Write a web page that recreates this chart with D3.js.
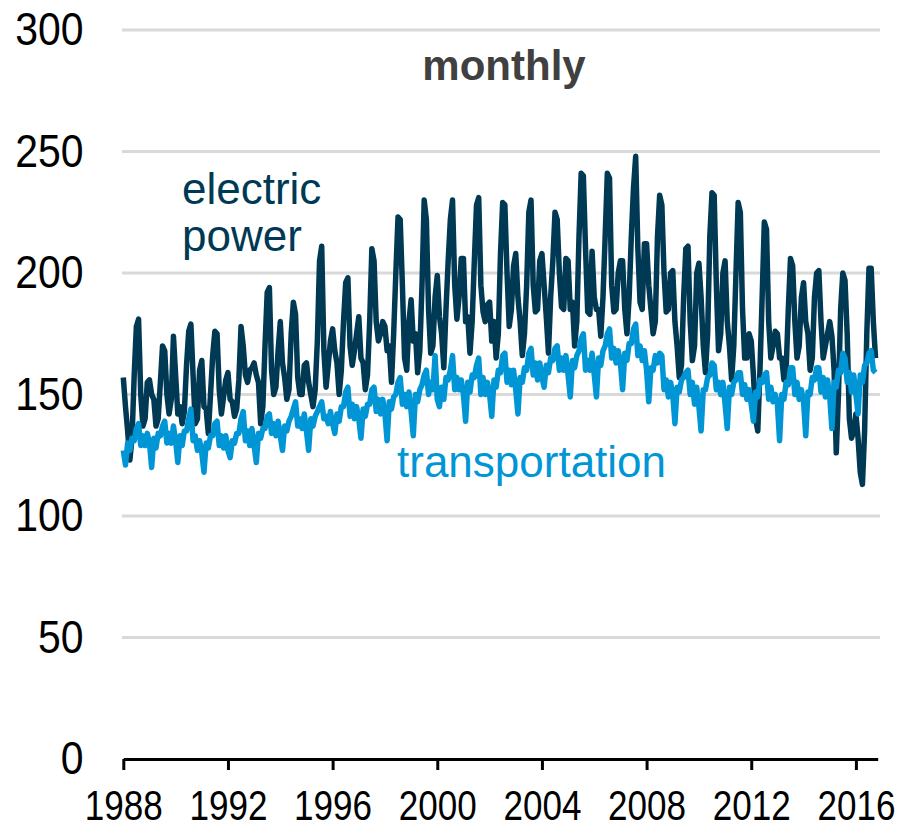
<!DOCTYPE html>
<html><head><meta charset="utf-8">
<script src="https://cdn.jsdelivr.net/npm/d3@7"></script>
<style>body{margin:0;background:#fff}</style>
</head><body>
<svg id="chart" width="905" height="830"></svg>
<script>
// ---- data (million metric tons, monthly, Jan 1988 – Oct 2016) ----
const startYear = 1988;
const electricPower = [
  157,145,135,123,132,158,178,181,150,137,140,155, // 1988
  156,150,148,137,140,155,170,168,150,142,148,174, // 1989
  158,142,145,138,143,162,176,179,158,138,140,160, // 1990
  164,145,144,134,150,166,176,175,152,142,149,156, // 1991
  159,148,147,141,144,156,178,170,158,155,160,161, // 1992
  163,158,155,138,145,170,192,194,160,150,153,168, // 1993
  180,163,157,148,152,175,188,183,157,150,150,162, // 1994
  163,155,150,145,152,172,205,211,168,153,162,172, // 1995
  177,168,163,150,160,180,196,198,170,162,168,175, // 1996
  182,165,163,152,158,180,210,205,180,172,175,180, // 1997
  178,168,170,155,175,200,223,222,195,165,160,180, // 1998
  189,172,175,159,168,195,230,222,185,167,170,190, // 1999
  199,182,175,161,185,205,222,230,195,181,190,206, // 2000
  206,180,182,167,180,205,228,231,195,184,180,187, // 2001
  188,172,180,165,175,208,229,228,200,178,185,203, // 2002
  208,190,180,166,175,195,225,230,195,184,185,205, // 2003
  208,195,182,167,190,205,225,222,200,186,185,206, // 2004
  205,185,188,170,180,215,241,240,210,184,183,209, // 2005
  190,185,185,174,190,215,241,239,195,184,185,200, // 2006
  205,205,185,175,190,215,235,248,210,188,185,212, // 2007
  212,195,185,175,180,215,232,228,200,184,185,200, // 2008
  201,180,170,157,162,190,210,211,180,164,170,200, // 2009
  204,190,170,159,175,215,233,232,195,168,175,200, // 2010
  205,180,170,156,170,200,229,225,185,165,165,175, // 2011
  172,158,140,135,160,190,221,218,180,165,170,176, // 2012
  175,165,165,156,160,185,206,203,180,165,170,190, // 2013
  196,180,175,160,165,190,200,201,180,165,170,175, // 2014
  180,174,160,126,150,185,200,197,175,140,132,135, // 2015
  142,132,118,113,135,175,202,202,180,165            // 2016
];
const transportation = [
  127,121,130,127,132,131,136,138,129,133,129,134, // 1988
  130,120,132,128,134,133,137,139,130,134,130,137, // 1989
  131,122,133,129,135,135,140,144,131,133,127,131, // 1990
  126,118,130,128,133,133,138,139,129,133,128,133, // 1991
  127,124,131,130,134,134,140,143,131,135,129,136, // 1992
  129,122,134,132,136,136,141,142,134,138,133,139, // 1993
  133,127,137,135,139,141,144,147,137,140,136,142, // 1994
  135,127,140,137,141,143,145,147,140,141,138,143, // 1995
  138,134,142,139,145,145,151,153,141,146,140,145, // 1996
  140,132,144,141,146,146,152,153,143,148,142,148, // 1997
  142,131,147,144,149,150,155,157,146,150,145,151, // 1998
  143,133,150,147,152,154,158,160,150,155,152,166, // 1999
  148,145,153,148,157,156,160,166,152,157,152,156, // 2000
  150,139,155,151,158,157,162,165,150,157,150,155, // 2001
  150,141,156,153,160,159,166,167,155,160,154,160, // 2002
  152,142,157,155,161,160,167,169,158,163,156,163, // 2003
  157,153,162,159,165,164,169,170,160,165,160,166, // 2004
  158,149,164,161,166,168,173,175,160,164,160,167, // 2005
  158,149,165,162,168,170,175,177,165,169,163,168, // 2006
  163,152,167,164,171,171,177,179,166,170,164,168, // 2007
  160,147,161,160,166,163,167,166,152,156,149,155, // 2008
  150,138,153,151,156,157,159,160,150,155,146,153, // 2009
  145,135,152,152,157,158,163,162,152,155,150,155, // 2010
  146,136,153,150,155,156,159,159,150,154,148,152, // 2011
  146,139,151,149,156,155,158,159,148,153,147,150, // 2012
  146,131,150,148,155,154,161,161,150,155,148,152, // 2013
  147,133,151,150,157,156,161,161,151,157,149,156, // 2014
  149,136,155,153,160,159,167,165,155,159,151,158, // 2015
  150,142,158,155,162,163,167,168,160,159            // 2016
];
const yTicks = [0, 50, 100, 150, 200, 250, 300];
const xTickYears = [1988, 1992, 1996, 2000, 2004, 2008, 2012, 2016];
const chartTitle = "monthly";
const electricLabel = ["electric", "power"];
const transportLabel = "transportation";

// ---- drawing ----
const svg = d3.select("#chart");
const fontFamily = "'Liberation Sans', Arial, Helvetica, sans-serif";
const darkColor = "#003953";
const lightColor = "#0096d6";

const nMonths = electricPower.length;
const lastT = startYear + (nMonths - 1) / 12;
const x = d3.scaleLinear().domain([startYear, lastT + 1/12]).range([123.3, 877.7]);
const y = d3.scaleLinear().domain([0, 300]).range([759, 30]);

// gridlines
svg.append("g").selectAll("line")
  .data(yTicks.filter(d => d > 0))
  .join("line")
  .attr("x1", 122).attr("x2", 880)
  .attr("y1", d => y(d)).attr("y2", d => y(d))
  .attr("stroke", "#d9d9d9").attr("stroke-width", 3);

// y axis labels
const yAxis = svg.append("g").attr("transform", "translate(83.5,0)")
  .call(d3.axisLeft(y).tickValues(yTicks).tickSize(0).tickPadding(0).tickFormat(d3.format("d")));
yAxis.select(".domain").remove();
yAxis.selectAll("text")
  .attr("font-family", fontFamily).attr("font-size", 46).attr("fill", "#000")
  .attr("dy", "0.32em")
  .attr("transform", "scale(0.89,1)");

// lines
const line = d3.line()
  .x((d, i) => x(startYear + i / 12))
  .y(d => y(d))
  .curve(d3.curveLinear);

svg.append("path").datum(electricPower)
  .attr("d", line).attr("fill", "none")
  .attr("stroke", darkColor).attr("stroke-width", 5.5).attr("stroke-linejoin", "round");
svg.append("path").datum(transportation)
  .attr("d", line).attr("fill", "none")
  .attr("stroke", lightColor).attr("stroke-width", 5.5).attr("stroke-linejoin", "round");

// x axis
const xAxis = svg.append("g").attr("transform", "translate(0,759)")
  .call(d3.axisBottom(x).tickValues(xTickYears).tickSizeInner(11).tickSizeOuter(0)
    .tickPadding(20).tickFormat(d3.format("d")));
xAxis.select(".domain").attr("stroke", "#000").attr("stroke-width", 3);
xAxis.selectAll(".tick line").attr("stroke", "#000").attr("stroke-width", 3);
xAxis.selectAll("text")
  .attr("font-family", fontFamily).attr("font-size", 42).attr("fill", "#000")
  .attr("transform", "scale(0.835,1)");

// annotations
svg.append("text").text(chartTitle)
  .attr("x", 504).attr("y", 80).attr("text-anchor", "middle")
  .attr("font-family", fontFamily).attr("font-weight", "bold").attr("font-size", 42)
  .attr("fill", "#404040");

svg.append("g").selectAll("text").data(electricLabel).join("text")
  .text(d => d)
  .attr("x", 182).attr("y", (d, i) => 204 + i * 47)
  .attr("font-family", fontFamily).attr("font-size", 44).attr("fill", darkColor);

svg.append("text").text(transportLabel)
  .attr("x", 397).attr("y", 477)
  .attr("font-family", fontFamily).attr("font-size", 44).attr("fill", lightColor);
</script>
</body></html>
